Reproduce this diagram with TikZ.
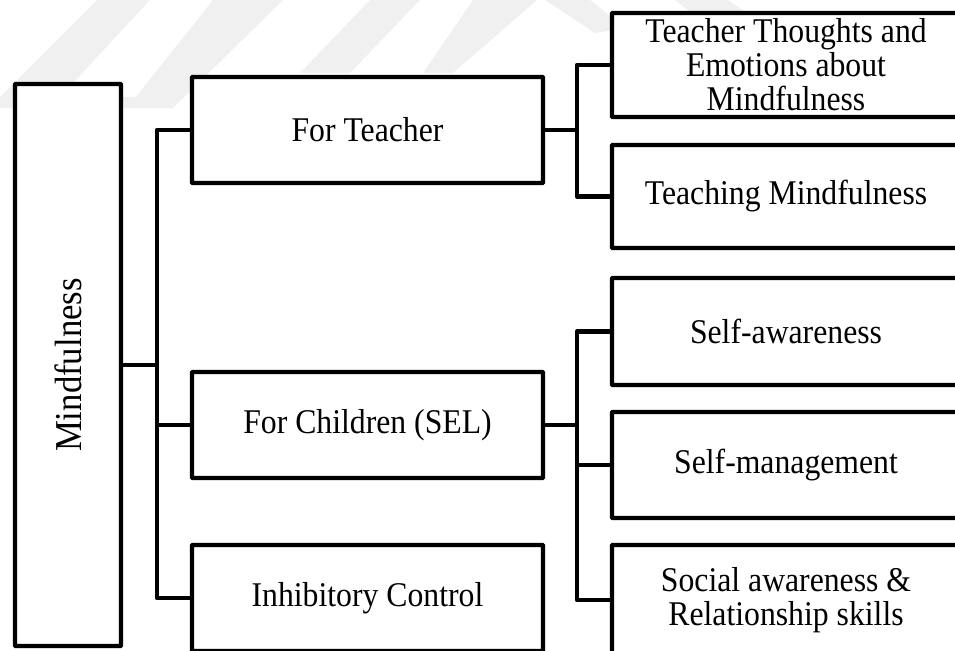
\documentclass[tikz,border=0pt]{standalone}
\usepackage{fontspec}
\setmainfont[FakeStretch=0.915]{Liberation Serif}
\begin{document}
\begin{tikzpicture}[x=0.75pt,y=-0.75pt,
  box/.style={draw=black,line width=3.3pt,fill=white,rounded corners=0.6pt,
    inner sep=0pt,align=center,font=\fontsize{26}{25.5}\selectfont},
  link/.style={draw=black,line width=3.3pt,line join=round,line cap=rect},
  wmark/.style={fill=black!6,draw=none}]
\useasboundingbox (0,0) rectangle (955,650);
\clip (0,0) rectangle (955,650);
% faint watermark stripes
\fill[wmark] (97,0) -- (150,0) -- (60,97) -- (173,97) -- (173,108) -- (0,108) -- (0,97) -- cycle;
\fill[wmark] (213,0) -- (283,0) -- (173,108) -- (127,108) -- cycle;
\fill[wmark] (370,0) -- (420,0) -- (350,73) -- (300,73) -- cycle;
\fill[wmark] (473,0) -- (537,0) -- (453,73) -- (423,73) -- cycle;
\fill[wmark] (545,0) -- (590,0) -- (625,28) -- (595,33) -- cycle;
\fill[wmark] (675,0) -- (728,0) -- (745,12) -- (690,12) -- cycle;
% boxes
\node[box,minimum width=79.5pt,minimum height=421.5pt,font=\fontsize{28.5}{30}\selectfont] (mind) at (68,365) {\rotatebox{90}{Mindfulness}};
\node[box,minimum width=263.25pt,minimum height=79.5pt] (ft) at (367.5,130) {For Teacher};
\node[box,minimum width=263.25pt,minimum height=79.5pt] (fc) at (367.5,425) {For Children (SEL)};
\node[box,minimum width=263.25pt,minimum height=79.5pt] (inh) at (367.5,598) {Inhibitory Control};
\node[box,minimum width=261pt,minimum height=78pt] (tt) at (786,65) {Teacher Thoughts and\\Emotions about\\Mindfulness};
\node[box,minimum width=261pt,minimum height=77.25pt] (tm) at (786,196.5) {Teaching Mindfulness};
\node[box,minimum width=261pt,minimum height=80.25pt] (sa) at (786,331.5) {Self-awareness};
\node[box,minimum width=261pt,minimum height=79.5pt] (sm) at (786,465) {Self-management};
\node[box,minimum width=261pt,minimum height=82.5pt] (sr) at (786,600) {Social awareness \&\\Relationship skills};
% junction points
\coordinate (t1) at (157,365);
\coordinate (t2) at (577,130);
\coordinate (t3) at (577,425);
% connectors
\draw[link] (mind.east) -- (t1);
\draw[link] (ft.west) -| (t1) |- (inh.west);
\draw[link] (t1) |- (fc.west);
\draw[link] (ft.east) -- (t2);
\draw[link] (tt.west) -| (t2) |- (tm.west);
\draw[link] (fc.east) -- (t3);
\draw[link] (sa.west) -| (t3) |- (sr.west);
\draw[link] (t3) |- (sm.west);
\end{tikzpicture}
\end{document}
